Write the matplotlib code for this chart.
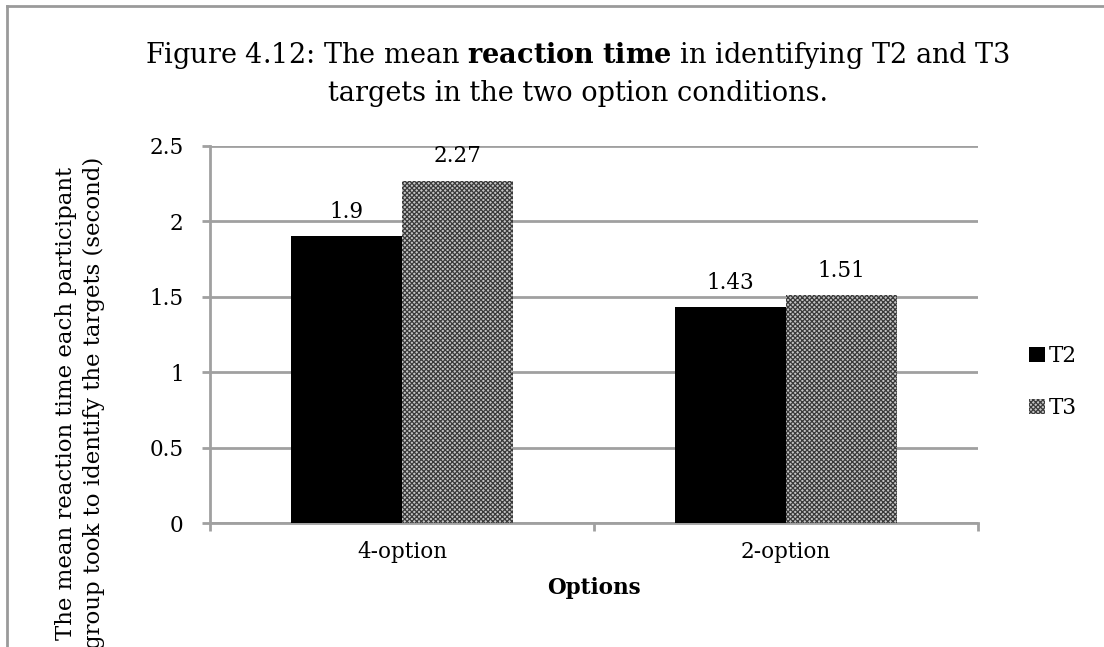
import matplotlib
matplotlib.use("Agg")
import matplotlib.pyplot as plt
from matplotlib.lines import Line2D
import numpy as np

categories = ["4-option", "2-option"]
series_names = ["T2", "T3"]
t2_values = [1.9, 1.43]
t3_values = [2.27, 1.51]
value_labels_t2 = ["1.9", "1.43"]
value_labels_t3 = ["2.27", "1.51"]
y_ticks = [0, 0.5, 1, 1.5, 2, 2.5]
y_tick_labels = ["0", "0.5", "1", "1.5", "2", "2.5"]

plt.rcParams['font.family'] = ['DejaVu Serif']
plt.rcParams['mathtext.fontset'] = 'dejavuserif'
plt.rcParams['hatch.linewidth'] = 0.9

W, H = 1104, 647
fig = plt.figure(figsize=(W / 100, H / 100), dpi=100)
ax = fig.add_axes([210 / W, 1 - 523 / H, 768 / W, 377 / H])

x = np.arange(len(categories))
w = 0.29
grid_c = '#a0a0a0'
fs = 15.5

b1 = ax.bar(x - w / 2, t2_values, w, color='black', label=series_names[0], zorder=3)
b2 = ax.bar(x + w / 2, t3_values, w, facecolor='#c4c4c4', edgecolor='#3a3a3a',
            hatch='xxxxxxx', linewidth=0, label=series_names[1], zorder=3)

for bars, labs in ((b1, value_labels_t2), (b2, value_labels_t3)):
    for r, lab in zip(bars, labs):
        ax.annotate(lab, (r.get_x() + r.get_width() / 2, r.get_height()),
                    xytext=(0, 13.5), textcoords='offset points',
                    ha='center', va='baseline', fontsize=fs)

ax.set_xlim(-0.5, 1.5)
ax.set_ylim(0, 2.5)
ax.set_yticks(y_ticks)
ax.set_yticklabels(y_tick_labels)
ax.set_xticks([-0.5, 0.5, 1.5], minor=False)
ax.set_xticklabels([])
ax.set_xticks(x, minor=True)
ax.set_xticklabels(categories, minor=True)
ax.tick_params(axis='x', which='minor', length=0, pad=13, labelsize=fs)
ax.tick_params(axis='x', which='major', length=6, width=2, color=grid_c, direction='out')
ax.tick_params(axis='y', length=6, width=2, color=grid_c, direction='out', pad=13,
               labelsize=fs)

ax.grid(axis='y', color=grid_c, linewidth=2, zorder=0)
ax.set_axisbelow(True)
for s in ('top', 'right'):
    ax.spines[s].set_visible(False)
for s in ('left', 'bottom'):
    ax.spines[s].set_color(grid_c)
    ax.spines[s].set_linewidth(2)

ax.set_xlabel("Options", fontweight='bold', fontsize=fs, labelpad=10)
fig.text(80 / W, 1 - 403 / H,
         "The mean reaction time each participant\ngroup took to identify the targets (second)",
         rotation=90, ha='center', va='center', fontsize=16.5, linespacing=1.3)

fig.text(578 / W, 1 - 63 / H,
         r"Figure 4.12: The mean $\mathbf{reaction\ time}$ in identifying T2 and T3",
         ha='center', va='baseline', fontsize=19.5)
fig.text(578 / W, 1 - 101 / H, "targets in the two option conditions.",
         ha='center', va='baseline', fontsize=19.5)

ax.legend(loc='center left', bbox_to_anchor=(1018 / W, 1 - 382 / H),
          bbox_transform=fig.transFigure, frameon=False,
          handlelength=0.75, handleheight=0.75, handletextpad=0.2,
          labelspacing=1.4, fontsize=fs, borderpad=0)

# outer chart border (top and left edges visible)
fig.add_artist(Line2D([7 / W, 1.0], [1 - 6 / H, 1 - 6 / H], color='#9a9a9a', linewidth=2))
fig.add_artist(Line2D([7 / W, 7 / W], [0, 1 - 6 / H], color='#9a9a9a', linewidth=2))

fig.savefig("out.png", dpi=100)
